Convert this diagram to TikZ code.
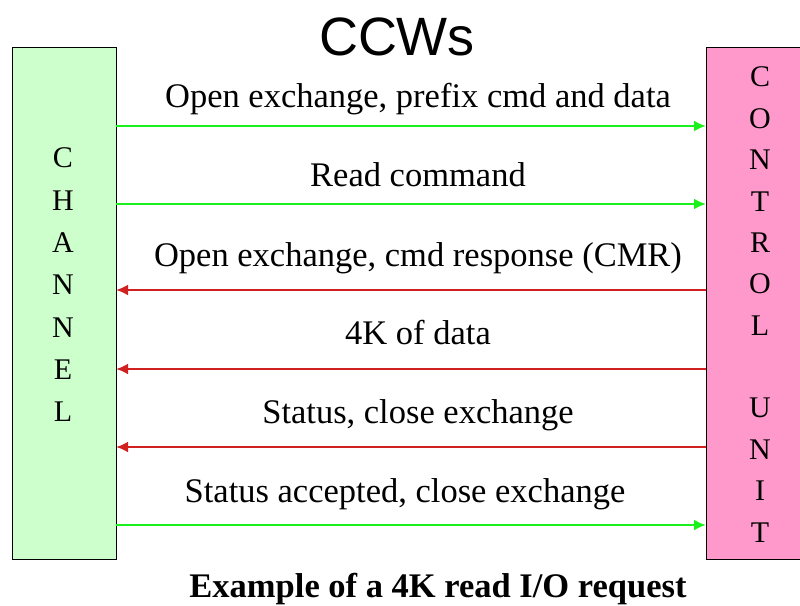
\documentclass[tikz,border=0pt]{standalone}
\usepackage{fontspec}
\setmainfont{Liberation Serif}
\newfontfamily\titlefont{Liberation Sans}
\usetikzlibrary{arrows.meta}
\definecolor{chgreen}{HTML}{CCFFCC}
\definecolor{cupink}{HTML}{FF99CC}
\definecolor{arrgreen}{HTML}{1AF01A}
\definecolor{arrred}{HTML}{D02020}
\begin{document}
\begin{tikzpicture}[x=1pt,y=-1pt,
  boxstyle/.style={draw=black,line width=1pt,inner sep=0pt,anchor=north west},
  letter/.style={font=\fontsize{30}{30}\selectfont,inner sep=0pt},
  lbl/.style={font=\fontsize{34.5}{34.5}\selectfont,inner sep=0pt,anchor=base},
  sendarr/.style={draw=arrgreen,line width=2.6pt,-{Latex[length=12pt,width=11pt]}},
  recvarr/.style={draw=arrred,line width=2.6pt,-{Latex[length=12pt,width=11pt]}}]
\useasboundingbox (0,0) rectangle (800,605);
\fill[white] (0,0) rectangle (800,605);
\node[boxstyle,fill=chgreen,minimum width=104pt,minimum height=512pt] (ch) at (12,47) {};
\node[boxstyle,fill=cupink,minimum width=100pt,minimum height=512pt] (cu) at (706,47) {};
\node[font=\titlefont\fontsize{54}{54}\selectfont,inner sep=0pt] (title) at (397,37) {CCWs};
% channel letters
\foreach \l [count=\i from 0] in {C,H,A,N,N,E,L}
  \node[letter] (chl\i) at (63,158+42.3*\i) {\l};
% control unit letters
\foreach \l/\i in {C/0,O/1,N/2,T/3,R/4,O/5,L/6,U/8,N/9,I/10,T/11}
  \node[letter] (cul\i) at (760,77+41.4*\i) {\l};
% arrows
\coordinate (a1l) at (116,126); \coordinate (a1r) at (706,126);
\coordinate (a2l) at (116,204); \coordinate (a2r) at (706,204);
\coordinate (a3l) at (116,290); \coordinate (a3r) at (706,290);
\coordinate (a4l) at (116,369); \coordinate (a4r) at (706,369);
\coordinate (a5l) at (116,447); \coordinate (a5r) at (706,447);
\coordinate (a6l) at (116,525); \coordinate (a6r) at (706,525);
\draw[sendarr] (a1l) -- (a1r);
\draw[sendarr] (a2l) -- (a2r);
\draw[recvarr] (a3r) -- (a3l);
\draw[recvarr] (a4r) -- (a4l);
\draw[recvarr] (a5r) -- (a5l);
\draw[sendarr] (a6l) -- (a6r);
\node[lbl] (l1) at (418,107) {Open exchange, prefix cmd and data};
\node[lbl] (l2) at (418,186) {Read command};
\node[lbl] (l3) at (418,266) {Open exchange, cmd response (CMR)};
\node[lbl] (l4) at (418,344) {4K of data};
\node[lbl] (l5) at (418,423) {Status, close exchange};
\node[lbl] (l6) at (405,502) {Status accepted, close exchange};
\node[font=\bfseries\fontsize{34.5}{34.5}\selectfont,inner sep=0pt,anchor=base] (cap) at (438,597) {Example of a 4K read I/O request};
\end{tikzpicture}
\end{document}
